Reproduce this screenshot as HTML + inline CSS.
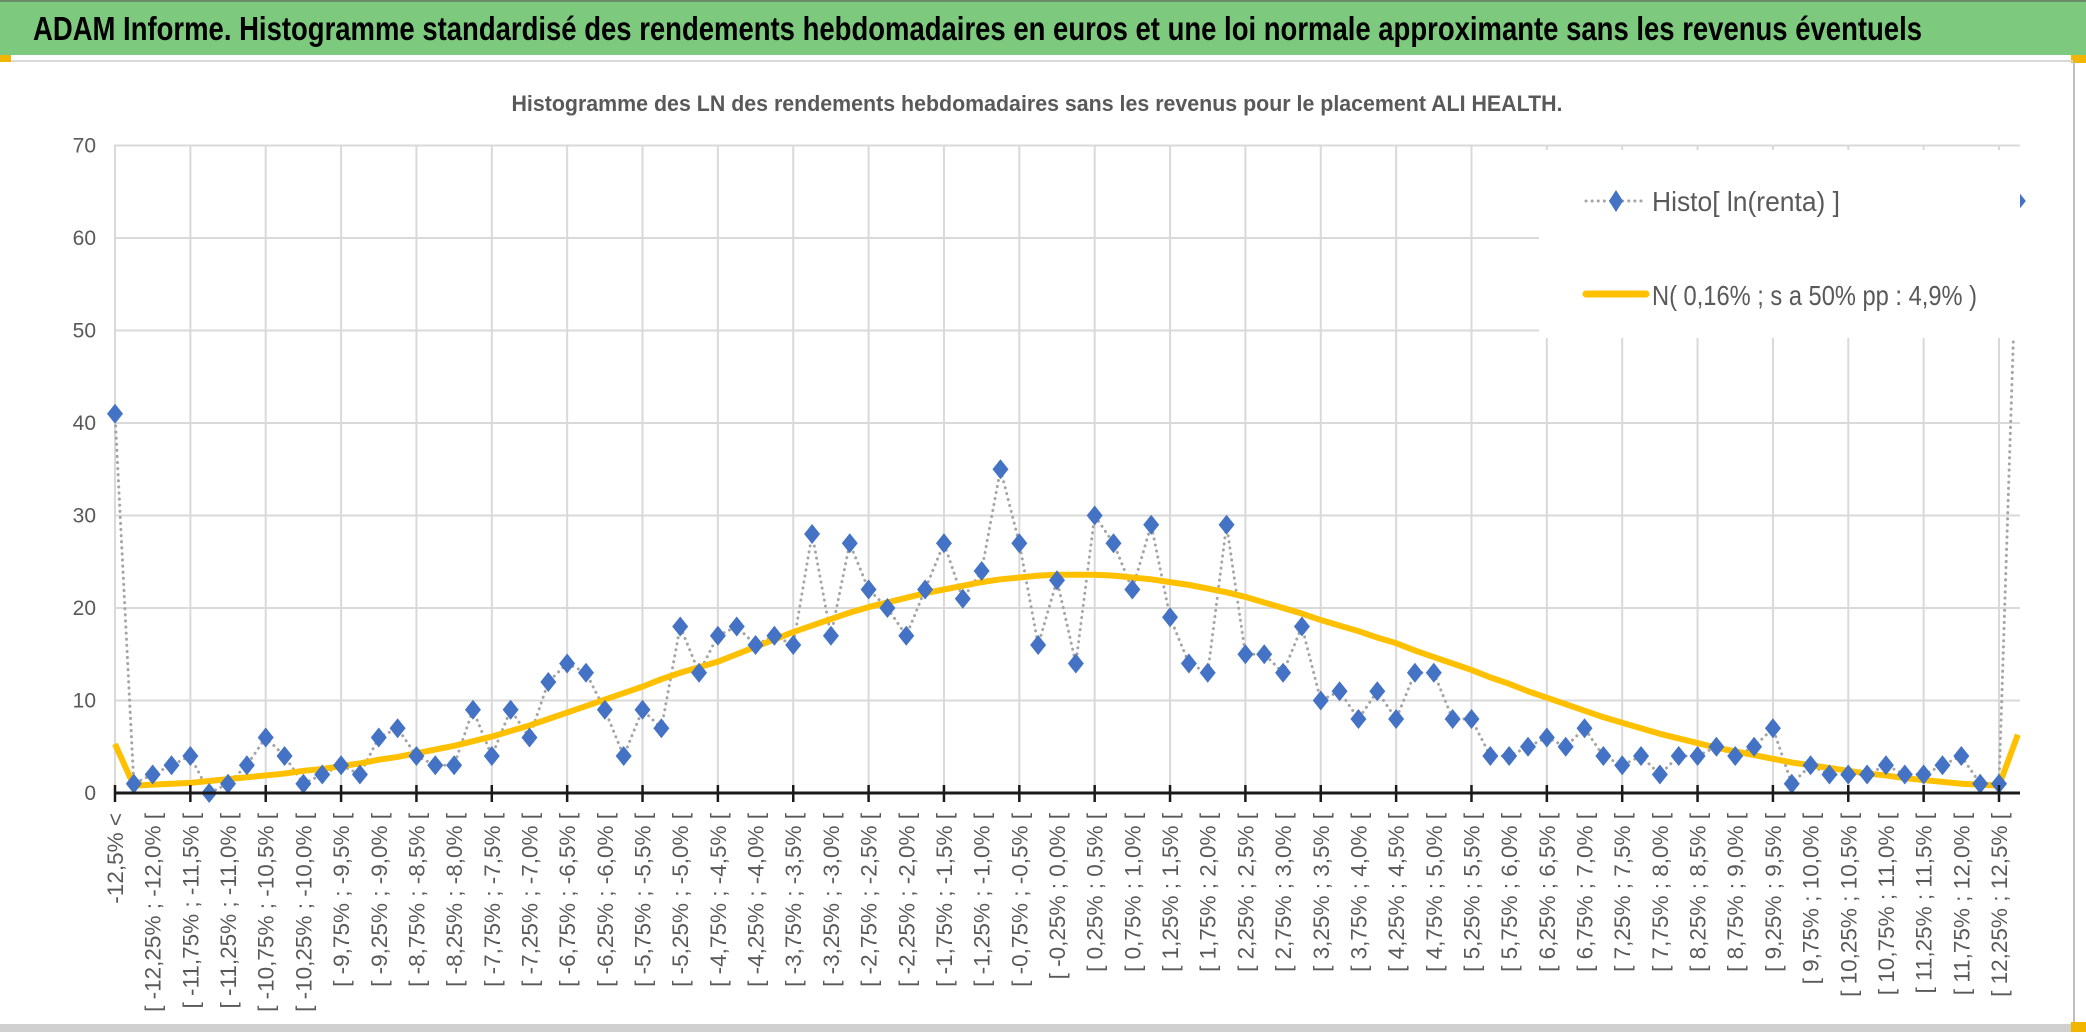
<!DOCTYPE html>
<html><head><meta charset="utf-8"><style>
html,body{margin:0;padding:0;background:#fff;width:2086px;height:1032px;overflow:hidden}
svg{display:block}
</style></head><body>
<svg id="chart" width="2086" height="1032" viewBox="0 0 2086 1032" xmlns="http://www.w3.org/2000/svg" font-family="'Liberation Sans', sans-serif">
<rect x="0" y="0" width="2086" height="1032" fill="#ffffff"/>
<rect x="0" y="0" width="2086" height="55" fill="#7dc97e"/>
<rect x="0" y="0" width="2086" height="2" fill="#6a8a6a"/>
<text x="33" y="40" font-size="33" font-weight="bold" fill="#000" textLength="1889" lengthAdjust="spacingAndGlyphs">ADAM Informe. Histogramme standardisé des rendements hebdomadaires en euros et une loi normale approximante sans les revenus éventuels</text>
<rect x="0" y="55" width="11" height="7" fill="#f2b600"/>
<rect x="2071" y="55" width="15" height="8" fill="#f2b600"/>
<rect x="11" y="60" width="2062" height="2" fill="#d9d9d9"/>
<rect x="2073" y="62" width="2" height="963" fill="#bfbfbf"/>
<rect x="0" y="1024" width="2086" height="8" fill="#d0d0d0"/>
<rect x="2071" y="1022" width="15" height="10" fill="#f2b600"/>
<text x="1037" y="111" font-size="22" font-weight="bold" fill="#595959" text-anchor="middle" textLength="1051" lengthAdjust="spacingAndGlyphs">Histogramme des LN des rendements hebdomadaires sans les revenus pour le placement ALI HEALTH.</text>
<g id="grid"></g>
<g id="ylabels"></g>
<defs><clipPath id="plotclip"><rect x="100" y="120" width="1928" height="700"/></clipPath></defs>
<g id="series" clip-path="url(#plotclip)"></g>
<g id="axis"></g>
<g id="xlabels"></g>
<g id="legend">
<rect x="1539" y="150" width="481" height="188" fill="#fff"/>
<line x1="1586" y1="201" x2="1643" y2="201" stroke="#a5a5a5" stroke-width="3" stroke-dasharray="0.1 6" stroke-linecap="round"/>
<path d="M1616 190 L1623 201 L1616 212 L1609 201 Z" fill="#4472c4"/>
<text x="1652" y="211" font-size="28" fill="#595959" textLength="188" lengthAdjust="spacingAndGlyphs">Histo[ ln(renta) ]</text>
<line x1="1586" y1="294" x2="1646" y2="294" stroke="#ffc000" stroke-width="7" stroke-linecap="round"/>
<text x="1652" y="305" font-size="28" fill="#595959" textLength="325" lengthAdjust="spacingAndGlyphs">N( 0,16% ; s a 50% pp : 4,9% )</text>
</g>
</svg>
<script>
const yTicks = [0,10,20,30,40,50,60,70];
const histo = [41,1,2,3,4,0,1,3,6,4,1,2,3,2,6,7,4,3,3,9,4,9,6,12,14,13,9,4,9,7,18,13,17,18,16,17,16,28,17,27,22,20,17,22,27,21,24,35,27,16,23,14,30,27,22,29,19,14,13,29,15,15,13,18,10,11,8,11,8,13,13,8,8,4,4,5,6,5,7,4,3,4,2,4,4,5,4,5,7,1,3,2,2,2,3,2,2,3,4,1,1,64];
const normal = [5.3,0.8,0.9,1.0,1.1,1.3,1.5,1.7,1.9,2.1,2.4,2.6,2.9,3.2,3.6,3.9,4.3,4.7,5.1,5.6,6.1,6.7,7.3,8.0,8.7,9.4,10.1,10.8,11.5,12.3,13.0,13.6,14.2,15.0,15.8,16.6,17.4,18.1,18.8,19.5,20.1,20.6,21.1,21.6,22.0,22.4,22.8,23.1,23.3,23.5,23.6,23.6,23.6,23.5,23.3,23.1,22.8,22.5,22.1,21.7,21.2,20.6,20.0,19.4,18.7,18.1,17.5,16.8,16.2,15.4,14.7,14.0,13.3,12.5,11.8,11.0,10.3,9.6,8.9,8.2,7.6,7.0,6.4,5.9,5.4,4.9,4.5,4.1,3.7,3.3,3.0,2.7,2.4,2.1,1.9,1.6,1.4,1.2,1.0,0.9,0.8,6.3];
const lowerBounds = [];
for (let k = 1; k <= 50; k++) lowerBounds.push(-12.75 + 0.5 * k);
const categoryLabels = ["-12,5% <"];

const NS = "http://www.w3.org/2000/svg";
function fmt(v){ let s = Math.abs(v).toFixed(2); if (s.endsWith("0")) s = s.slice(0,-1); return (v < -1e-9 ? "-" : "") + s.replace(".", ",") + "%"; }
lowerBounds.forEach(a => categoryLabels.push("[ " + fmt(a) + " ; " + fmt(a + 0.25) + " ["));

const X0 = 115, DX = 18.84, Y0 = 793, PY = 9.25, LEFT = 114, RIGHT = 2020;
const xs = i => X0 + i * DX;
const ys = v => Y0 - v * PY;
function mk(tag, attrs, parent){ const e = document.createElementNS(NS, tag); for (const k in attrs) e.setAttribute(k, attrs[k]); parent.appendChild(e); return e; }

const grid = document.getElementById("grid");
yTicks.forEach(t => {
  if (t === 0) return;
  const l = mk("line", {x1: LEFT, x2: RIGHT, y1: ys(t), y2: ys(t), stroke: "#d9d9d9", "stroke-width": 2}, grid);
  
  
});
for (let i = 0; i < histo.length; i += 4) {
  const l = mk("line", {x1: xs(i), x2: xs(i), y1: ys(yTicks[yTicks.length-1]), y2: Y0, stroke: "#d9d9d9", "stroke-width": 2}, grid);
  
  
}
const yl = document.getElementById("ylabels");
yTicks.forEach(t => {
  const tx = mk("text", {x: 96, y: ys(t) + 7, "font-size": 21, fill: "#595959", "text-anchor": "end"}, yl);
  tx.textContent = t;
  
  
});

const series = document.getElementById("series");
const hp = histo.map((v, i) => xs(i) + "," + ys(v)).join(" ");
const hl = mk("polyline", {points: hp, fill: "none", stroke: "#a5a5a5", "stroke-width": 3, "stroke-dasharray": "0.1 6", "stroke-linecap": "round"}, series);


const np = normal.map((v, i) => xs(i) + "," + ys(v)).join(" ");
const nl = mk("polyline", {points: np, fill: "none", stroke: "#ffc000", "stroke-width": 6, "stroke-linejoin": "round"}, series);


histo.forEach((v, i) => {
  const x = xs(i), y = ys(v);
  const d = mk("path", {d: `M${x} ${y-10} L${x+8} ${y} L${x} ${y+10} L${x-8} ${y} Z`, fill: "#4472c4"}, series);
  
  
});

const axis = document.getElementById("axis");
const al = mk("line", {x1: LEFT, x2: RIGHT, y1: Y0, y2: Y0, stroke: "#1a1a1a", "stroke-width": 3}, axis);


for (let i = 0; i < histo.length; i += 4) {
  const t = mk("line", {x1: xs(i), x2: xs(i), y1: Y0 - 8, y2: Y0 + 9, stroke: "#1a1a1a", "stroke-width": 2.5}, axis);
  
  
}
const xl = document.getElementById("xlabels");
categoryLabels.forEach((lab, k) => {
  const x = xs(k * 2) + 8, y = 813;
  const tx = mk("text", {x: x, y: y, "font-size": 22.5, fill: "#595959", "text-anchor": "end", transform: `rotate(-90 ${x} ${y})`}, xl);
  tx.textContent = lab;
  
  
});
</script>
</body></html>
